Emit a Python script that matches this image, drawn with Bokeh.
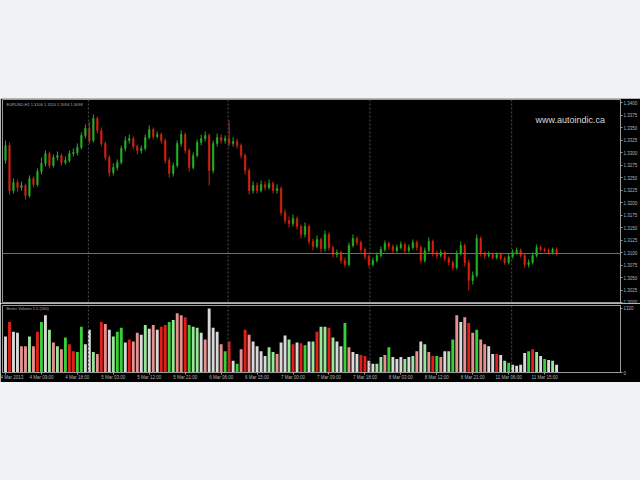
from bokeh.plotting import figure
from bokeh.layouts import column
from bokeh.models import (Range1d, FixedTicker, Span, Label, Spacer,
                          ColumnDataSource, NumeralTickFormatter)
from bokeh.embed import file_html
from bokeh.resources import INLINE

# ---------------- data ----------------
opens = [1.3284, 1.3314, 1.3224, 1.3240, 1.3230, 1.3234, 1.3214, 1.3248, 1.3236, 1.3262,
         1.3278, 1.3298, 1.3274, 1.3290, 1.3294, 1.3280, 1.3284, 1.3298, 1.3300, 1.3310,
         1.3334, 1.3348, 1.3324, 1.3368, 1.3344, 1.3318, 1.3290, 1.3260, 1.3270, 1.3280,
         1.3308, 1.3324, 1.3328, 1.3312, 1.3304, 1.3308, 1.3330, 1.3346, 1.3332, 1.3336,
         1.3324, 1.3284, 1.3258, 1.3274, 1.3318, 1.3336, 1.3304, 1.3270, 1.3294, 1.3320,
         1.3328, 1.3334, 1.3264, 1.3318, 1.3330, 1.3324, 1.3328, 1.3318, 1.3322, 1.3314,
         1.3294, 1.3264, 1.3224, 1.3234, 1.3224, 1.3236, 1.3230, 1.3238, 1.3224, 1.3228,
         1.3180, 1.3164, 1.3158, 1.3168, 1.3152, 1.3136, 1.3152, 1.3122, 1.3112, 1.3126,
         1.3108, 1.3136, 1.3110, 1.3096, 1.3100, 1.3084, 1.3076, 1.3114, 1.3128, 1.3120,
         1.3106, 1.3092, 1.3076, 1.3084, 1.3094, 1.3106, 1.3118, 1.3112, 1.3104, 1.3110,
         1.3116, 1.3104, 1.3110, 1.3120, 1.3110, 1.3084, 1.3104, 1.3122, 1.3098, 1.3094,
         1.3100, 1.3088, 1.3080, 1.3070, 1.3098, 1.3114, 1.3080, 1.3044, 1.3054, 1.3128,
         1.3098, 1.3094, 1.3096, 1.3090, 1.3096, 1.3088, 1.3080, 1.3092, 1.3100, 1.3104,
         1.3094, 1.3076, 1.3080, 1.3094, 1.3110, 1.3106, 1.3104, 1.3100, 1.3106]

closes = [1.3314, 1.3224, 1.3240, 1.3230, 1.3234, 1.3214, 1.3248, 1.3236, 1.3262, 1.3278,
          1.3298, 1.3274, 1.3290, 1.3294, 1.3280, 1.3284, 1.3298, 1.3300, 1.3310, 1.3334,
          1.3348, 1.3324, 1.3368, 1.3344, 1.3318, 1.3290, 1.3260, 1.3270, 1.3280, 1.3308,
          1.3324, 1.3328, 1.3312, 1.3304, 1.3308, 1.3330, 1.3346, 1.3332, 1.3336, 1.3324,
          1.3284, 1.3258, 1.3274, 1.3318, 1.3336, 1.3304, 1.3270, 1.3294, 1.3320, 1.3328,
          1.3334, 1.3264, 1.3318, 1.3330, 1.3324, 1.3328, 1.3318, 1.3322, 1.3314, 1.3294,
          1.3264, 1.3224, 1.3234, 1.3224, 1.3236, 1.3230, 1.3238, 1.3224, 1.3228, 1.3180,
          1.3164, 1.3158, 1.3168, 1.3152, 1.3136, 1.3152, 1.3122, 1.3112, 1.3126, 1.3108,
          1.3136, 1.3110, 1.3096, 1.3100, 1.3084, 1.3076, 1.3114, 1.3128, 1.3120, 1.3106,
          1.3092, 1.3076, 1.3084, 1.3094, 1.3106, 1.3118, 1.3112, 1.3104, 1.3110, 1.3116,
          1.3104, 1.3110, 1.3120, 1.3110, 1.3084, 1.3104, 1.3122, 1.3098, 1.3094, 1.3100,
          1.3088, 1.3080, 1.3070, 1.3098, 1.3114, 1.3080, 1.3044, 1.3054, 1.3128, 1.3098,
          1.3094, 1.3096, 1.3090, 1.3096, 1.3088, 1.3080, 1.3092, 1.3100, 1.3104, 1.3094,
          1.3076, 1.3080, 1.3094, 1.3110, 1.3106, 1.3104, 1.3100, 1.3106, 1.3098]

highs = [1.3324, 1.3320, 1.3248, 1.3246, 1.3242, 1.3238, 1.3254, 1.3252, 1.3268, 1.3290,
         1.3304, 1.3302, 1.3296, 1.3302, 1.3298, 1.3292, 1.3304, 1.3308, 1.3318, 1.3340,
         1.3356, 1.3362, 1.3376, 1.3372, 1.3350, 1.3322, 1.3294, 1.3278, 1.3286, 1.3314,
         1.3332, 1.3336, 1.3332, 1.3316, 1.3314, 1.3336, 1.3354, 1.3350, 1.3342, 1.3340,
         1.3328, 1.3290, 1.3280, 1.3324, 1.3344, 1.3340, 1.3308, 1.3300, 1.3326, 1.3336,
         1.3342, 1.3338, 1.3324, 1.3338, 1.3336, 1.3334, 1.3364, 1.3330, 1.3328, 1.3318,
         1.3298, 1.3268, 1.3242, 1.3240, 1.3244, 1.3242, 1.3246, 1.3242, 1.3236, 1.3232,
         1.3186, 1.3172, 1.3176, 1.3172, 1.3156, 1.3160, 1.3156, 1.3128, 1.3134, 1.3130,
         1.3144, 1.3140, 1.3114, 1.3106, 1.3104, 1.3090, 1.3120, 1.3136, 1.3132, 1.3124,
         1.3110, 1.3096, 1.3090, 1.3100, 1.3112, 1.3124, 1.3122, 1.3116, 1.3116, 1.3122,
         1.3120, 1.3116, 1.3126, 1.3124, 1.3114, 1.3110, 1.3130, 1.3126, 1.3104, 1.3106,
         1.3104, 1.3092, 1.3084, 1.3104, 1.3122, 1.3118, 1.3086, 1.3062, 1.3136, 1.3132,
         1.3102, 1.3102, 1.3100, 1.3100, 1.3100, 1.3092, 1.3098, 1.3106, 1.3110, 1.3108,
         1.3098, 1.3086, 1.3100, 1.3116, 1.3114, 1.3110, 1.3108, 1.3110, 1.3110]

lows = [1.3278, 1.3216, 1.3218, 1.3222, 1.3224, 1.3206, 1.3210, 1.3230, 1.3232, 1.3256,
        1.3272, 1.3268, 1.3270, 1.3284, 1.3274, 1.3276, 1.3280, 1.3292, 1.3294, 1.3306,
        1.3328, 1.3318, 1.3320, 1.3338, 1.3312, 1.3284, 1.3252, 1.3254, 1.3264, 1.3276,
        1.3302, 1.3318, 1.3306, 1.3296, 1.3298, 1.3304, 1.3326, 1.3326, 1.3328, 1.3318,
        1.3278, 1.3250, 1.3252, 1.3270, 1.3312, 1.3298, 1.3262, 1.3266, 1.3290, 1.3314,
        1.3322, 1.3234, 1.3258, 1.3312, 1.3318, 1.3318, 1.3312, 1.3312, 1.3308, 1.3288,
        1.3256, 1.3216, 1.3218, 1.3218, 1.3220, 1.3224, 1.3226, 1.3218, 1.3218, 1.3174,
        1.3158, 1.3150, 1.3152, 1.3146, 1.3128, 1.3130, 1.3116, 1.3104, 1.3108, 1.3100,
        1.3102, 1.3104, 1.3090, 1.3090, 1.3078, 1.3070, 1.3072, 1.3110, 1.3114, 1.3100,
        1.3086, 1.3070, 1.3072, 1.3080, 1.3090, 1.3102, 1.3106, 1.3098, 1.3100, 1.3106,
        1.3098, 1.3100, 1.3106, 1.3104, 1.3078, 1.3080, 1.3100, 1.3092, 1.3088, 1.3090,
        1.3082, 1.3074, 1.3064, 1.3066, 1.3094, 1.3072, 1.3024, 1.3036, 1.3050, 1.3092,
        1.3088, 1.3090, 1.3086, 1.3086, 1.3084, 1.3076, 1.3076, 1.3088, 1.3096, 1.3090,
        1.3070, 1.3070, 1.3076, 1.3090, 1.3102, 1.3100, 1.3096, 1.3096, 1.3094]

volumes = [740, 1040, 840, 820, 540, 540, 740, 540, 840, 1040,
           1180, 880, 620, 540, 480, 720, 580, 440, 420, 940,
           580, 880, 420, 380, 1040, 1000, 880, 740, 840, 920,
           620, 680, 640, 820, 780, 980, 900, 980, 880, 940,
           980, 1040, 1080, 1220, 1180, 1140, 980, 940, 920, 820,
           680, 1320, 920, 840, 580, 440, 640, 240, 180, 480,
           880, 780, 640, 540, 440, 340, 520, 420, 380, 620,
           760, 680, 580, 620, 600, 560, 640, 640, 840, 940,
           940, 920, 720, 640, 540, 1020, 520, 420, 380, 360,
           340, 240, 180, 180, 320, 360, 520, 320, 280, 320,
           280, 320, 340, 440, 640, 580, 420, 340, 340, 320,
           440, 440, 680, 1180, 1040, 1140, 1020, 820, 880, 680,
           580, 540, 380, 380, 360, 240, 200, 160, 140, 160,
           400, 440, 480, 420, 340, 280, 260, 240, 160]

vol_class = ("W R W W P P L P R G "
             "W L P L P G R R G G "
             "W W L P R P W L G G "
             "W R P P W L W P W R "
             "R G L P P R G L L W "
             "P W W W P G R W G P "
             "R P W W W W L L P W "
             "W L R W R G W L R L "
             "L R L W W G P W W R "
             "R W W L L P G W W W "
             "L W L P W L P R G P "
             "W L G P W P R P G P "
             "P W W R W L G W W W "
             "W G R L W G W L W").split()

day_breaks = [20.75, 55.75, 91.25, 126.75]
price_ticks = [1.3000, 1.3025, 1.3050, 1.3075, 1.3100, 1.3125, 1.3150, 1.3175, 1.3200,
               1.3225, 1.3250, 1.3275, 1.3300, 1.3325, 1.3350, 1.3375, 1.3400]
time_ticks = [0, 9, 18, 27, 36, 45, 54, 63, 72, 81, 90, 99, 108, 117, 126, 135]
time_labels = ["4 Mar 2013", "4 Mar 09:00", "4 Mar 18:00", "5 Mar 03:00", "5 Mar 12:00",
               "5 Mar 21:00", "6 Mar 06:00", "6 Mar 15:00", "7 Mar 00:00", "7 Mar 09:00",
               "7 Mar 18:00", "8 Mar 03:00", "8 Mar 12:00", "8 Mar 21:00", "11 Mar 06:00",
               "11 Mar 15:00"]
symbol_text = "EURUSD,H1  1.3106 1.3110 1.3094 1.3098"
volume_text = "Better Volume 1.5 (160)"
watermark = "www.autoindic.ca"

# ---------------- styling ----------------
BULL, BEAR = "#22b022", "#d2220e"
VOL_COLORS = {"W": "#d9d9d9", "R": "#e0201a", "P": "#e69090",
              "G": "#38cf38", "L": "#98e498"}
FRAME = "#9a9a9a"
LABEL = "#b4b4b4"
PAGE_BG = "#f1f2f4"

n = len(closes)
src = ColumnDataSource(dict(
    x=list(range(n)), o=opens, h=highs, l=lows, c=closes,
    top=[max(a, b) for a, b in zip(opens, closes)],
    bot=[min(a, b) for a, b in zip(opens, closes)],
    col=[BULL if c >= o else BEAR for o, c in zip(opens, closes)],
    v=volumes, vcol=[VOL_COLORS[k] for k in vol_class],
))

xr = Range1d(-0.75, 154.0)

common = dict(width=640, x_range=xr, output_backend="svg", toolbar_location=None,
              background_fill_color="black", border_fill_color="black",
              outline_line_color=FRAME, min_border_left=2, min_border_right=19,
              y_axis_location="right")

# ---------------- price panel ----------------
p = figure(height=205, y_range=Range1d(1.2998, 1.3406), x_axis_location=None,
           min_border_top=1, min_border_bottom=0, **common)
p.grid.visible = False

for b in day_breaks:
    p.add_layout(Span(location=b, dimension="height", line_color="#505050",
                      line_dash="2 2", line_width=1))
p.add_layout(Span(location=closes[-1], dimension="width", line_color="#6e6e6e",
                  line_width=1))

p.segment(x0="x", y0="h", x1="x", y1="l", line_color="col", line_width=1, source=src)
p.vbar(x="x", width=0.4, top="top", bottom="bot", fill_color="col",
       line_color="col", line_width=0.5, source=src)

ya = p.yaxis[0]
ya.ticker = FixedTicker(ticks=price_ticks)
ya.formatter = NumeralTickFormatter(format="0.0000")
ya.major_label_text_font_size = "4.5px"
ya.major_label_text_color = LABEL
ya.axis_line_color = FRAME
ya.major_tick_line_color = FRAME
ya.major_tick_out = 2
ya.major_tick_in = 0
ya.minor_tick_out = 0
ya.minor_tick_in = 0
ya.major_label_standoff = 1

p.add_layout(Label(x=4, y=199, x_units="screen", y_units="screen", text=symbol_text,
                   text_font_size="4px", text_color="#a8a8a8", text_baseline="middle"))
p.add_layout(Label(x=533, y=184, x_units="screen", y_units="screen", text=watermark,
                   text_font_size="9px", text_color="#d8d8d8", text_baseline="middle"))
p.add_layout(Label(x=620, y=closes[-1], x_units="screen", y_units="data",
                   text=f"{closes[-1]:.4f}", text_font_size="4.5px", text_color="black",
                   background_fill_color="#e8e8e8", text_baseline="middle"))

# ---------------- volume panel ----------------
v = figure(height=79, y_range=Range1d(0, 1380), x_axis_location="below",
           min_border_top=2, min_border_bottom=8, **common)
v.grid.visible = False
for b in day_breaks:
    v.add_layout(Span(location=b, dimension="height", line_color="#505050",
                      line_dash="2 2", line_width=1))
v.vbar(x="x", width=0.72, top="v", bottom=0, fill_color="vcol", line_color=None,
       source=src)

vy = v.yaxis[0]
vy.ticker = FixedTicker(ticks=[0, max(volumes)])
vy.major_label_text_font_size = "4.5px"
vy.major_label_text_color = LABEL
vy.axis_line_color = FRAME
vy.major_tick_line_color = FRAME
vy.major_tick_out = 2
vy.major_tick_in = 0
vy.minor_tick_out = 0
vy.minor_tick_in = 0
vy.major_label_standoff = 1

vx = v.xaxis[0]
vx.ticker = FixedTicker(ticks=time_ticks)
vx.major_label_overrides = {t: s for t, s in zip(time_ticks, time_labels)}
vx.major_label_text_font_size = "4.5px"
vx.major_label_text_color = LABEL
vx.axis_line_color = FRAME
vx.major_tick_line_color = FRAME
vx.major_tick_out = 2
vx.major_tick_in = 0
vx.minor_tick_out = 0
vx.minor_tick_in = 0
vx.major_label_standoff = 0

v.add_layout(Label(x=4, y=64, x_units="screen", y_units="screen", text=volume_text,
                   text_font_size="4px", text_color="#a8a8a8", text_baseline="middle"))

layout = column(Spacer(width=640, height=98), p, v, spacing=0)

html = file_html(layout, INLINE, title="chart")
html = html.replace("<head>", "<head><style>html,body{margin:0;padding:0;background:"
                    + PAGE_BG + ";overflow:hidden;}</style>", 1)
open("out.html", "w").write(html)
